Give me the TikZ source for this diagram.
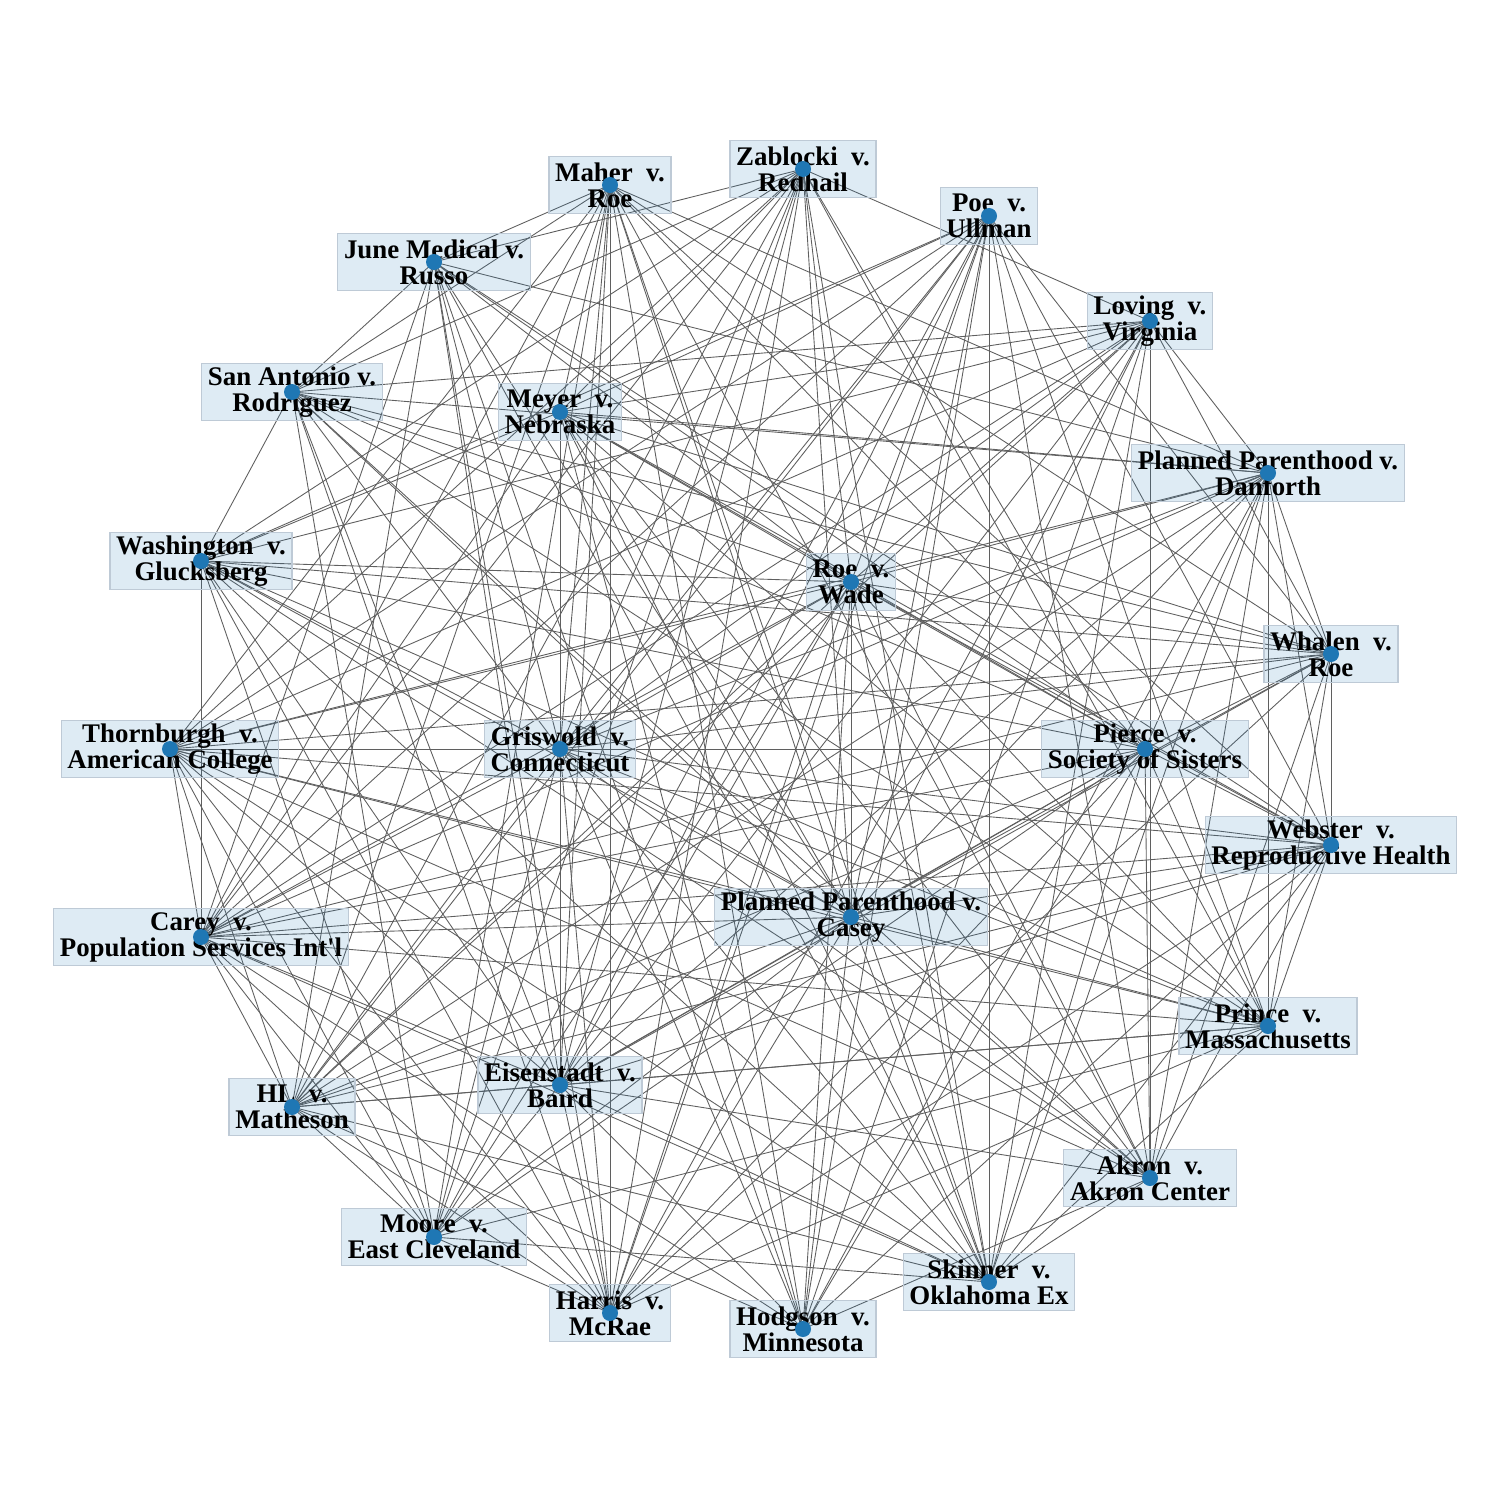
\documentclass[tikz,border=0pt]{standalone}
\usepackage{fontspec}
\setmainfont{Liberation Serif}
\usetikzlibrary{backgrounds}
\definecolor{tabblue}{RGB}{31,119,180}
\definecolor{citegray}{RGB}{95,95,95}
\definecolor{boxedge}{RGB}{190,202,214}

\begin{document}
\begin{tikzpicture}[x=0.02cm, y=-0.02cm,
    casedot/.style={circle, fill=tabblue, inner sep=0pt, minimum size=0.32cm},
    casebox/.style={draw=boxedge, line width=0.7pt, fill=tabblue, fill opacity=0.15, text opacity=1, align=center,
      inner xsep=3.5pt, inner ysep=2pt, minimum height=1.14cm, font=\fontsize{15.3}{14.8}\selectfont\bfseries},
    cite/.style={draw=citegray, line width=0.5pt}]
  \useasboundingbox (0,0) rectangle (1500,1500);
  % case labels
  \node[casebox] (ma-l) at (610,185) {Maher~ v.\\Roe};
  \node[casebox] (za-l) at (803,169) {Zablocki~ v.\\Redhail};
  \node[casebox] (po-l) at (989,216) {Poe~ v.\\Ullman};
  \node[casebox] (ju-l) at (434,262) {June Medical v.\\Russo};
  \node[casebox] (lo-l) at (1150,321) {Loving~ v.\\Virginia};
  \node[casebox] (sa-l) at (292,392) {San Antonio v.\\Rodriguez};
  \node[casebox] (me-l) at (560,412) {Meyer~ v.\\Nebraska};
  \node[casebox] (da-l) at (1268,473) {Planned Parenthood v.\\Danforth};
  \node[casebox] (wa-l) at (201,561) {Washington~ v.\\Glucksberg};
  \node[casebox] (ro-l) at (851,582) {Roe~ v.\\Wade};
  \node[casebox] (wh-l) at (1331,654) {Whalen~ v.\\Roe};
  \node[casebox] (th-l) at (170,749) {Thornburgh~ v.\\American College};
  \node[casebox] (gr-l) at (560,749) {Griswold~ v.\\Connecticut};
  \node[casebox] (pi-l) at (1145,749) {Pierce~ v.\\Society of Sisters};
  \node[casebox] (we-l) at (1331,845) {Webster~ v.\\Reproductive Health};
  \node[casebox] (ca-l) at (201,937) {Carey~ v.\\Population Services Int\textquotesingle l};
  \node[casebox] (pc-l) at (851,917) {Planned Parenthood v.\\Casey};
  \node[casebox] (pr-l) at (1268,1026) {Prince~ v.\\Massachusetts};
  \node[casebox] (ei-l) at (560,1085) {Eisenstadt~ v.\\Baird};
  \node[casebox] (hl-l) at (292,1107) {HL~ v.\\Matheson};
  \node[casebox] (ak-l) at (1150,1178) {Akron~ v.\\Akron Center};
  \node[casebox] (mo-l) at (434,1237) {Moore~ v.\\East Cleveland};
  \node[casebox] (sk-l) at (989,1282) {Skinner~ v.\\Oklahoma Ex};
  \node[casebox] (ha-l) at (610,1313) {Harris~ v.\\McRae};
  \node[casebox] (ho-l) at (803,1329) {Hodgson~ v.\\Minnesota};
  % case dots
  \foreach \c in {ma,za,po,ju,lo,sa,me,da,wa,ro,wh,th,gr,pi,we,ca,pc,pr,ei,hl,ak,mo,sk,ha,ho}
    \node[casedot] (\c) at (\c-l) {};
  % citations
  \begin{pgfonlayer}{background}
    \foreach \a/\nbrs in {
        ma/{ju,sa,th,ca,hl,me,mo,gr,ei,ha,ho,sk,pc,ak,pi,we,wh,da},
        za/{ju,lo,sa,wa,me,ro,th,gr,pi,ca,pc,pr,ei,hl,sk,mo,ha},
        po/{wa,me,th,ro,gr,we,wh,ca,pc,ei,hl,ak,mo,sk,ha,ho,pr},
        ju/{sa,da,ro,pi,gr,ca,pc,ei,hl,sk,ha,ho,we},
        lo/{sa,me,da,wa,ro,wh,th,gr,ca,pc,ei,hl,ak,sk,ha,ho},
        sa/{da,wa,ro,pi,ei,gr,pc,ak,mo,ha,pr,wh},
        me/{da,wa,ro,pi,we,gr,ca,pc,pr,ei,ak,sk,ho,wh},
        da/{ro,th,gr,pi,we,ca,pc,pr,ei,hl,ak,sk,ho,wh},
        wa/{ro,wh,pi,ca,pc,pr,ei,ak,mo,sk,ha,gr},
        ro/{wh,th,gr,pi,we,ca,pc,pr,ei,hl,ak,mo,sk,ha,ho},
        wh/{th,gr,pi,ca,pc,pr,ei,ak,ha,we},
        th/{gr,pi,we,ca,pc,pr,ei,hl,ak,mo,ha,sk},
        gr/{pi,we,ca,pc,pr,ei,hl,ak,mo,sk,ha,ho},
        pi/{we,ca,pc,pr,ei,hl,ak,mo,sk,ha,ho},
        we/{ca,pc,pr,ei,hl,ak,sk,ha,ho},
        ca/{pc,pr,ei,hl,mo,sk,ha,ho},
        pc/{pr,ei,hl,ak,mo,sk,ha,ho},
        pr/{ei,hl,mo,sk,ha},
        ei/{hl,ak,mo,sk,ha,ho},
        hl/{mo,sk,ha,ho},
        ak/{sk,ho},
        mo/{ha,sk}}
      {\foreach \b in \nbrs {\draw[cite] (\a.center) -- (\b.center);}}
  \end{pgfonlayer}
\end{tikzpicture}
\end{document}
